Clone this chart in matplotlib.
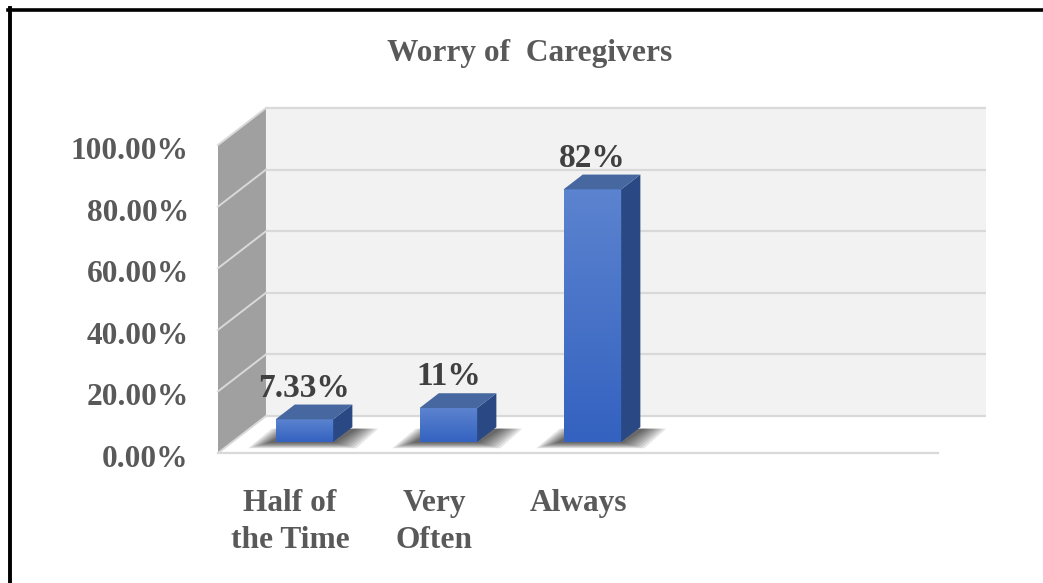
import numpy as np
import matplotlib.pyplot as plt
from matplotlib.patches import Polygon
from matplotlib.lines import Line2D
from matplotlib.colors import LinearSegmentedColormap
from matplotlib.transforms import ScaledTranslation

plt.rcParams['font.family'] = ['Liberation Serif', 'DejaVu Serif']
plt.rcParams['font.weight'] = 'bold'

title = 'Worry of  Caregivers'
categories = ['Half of\nthe Time', 'Very\nOften', 'Always']
values = [7.33, 11, 82]
value_labels = ['7.33%', '11%', '82%']
ticks = [0, 20, 40, 60, 80, 100]
tick_labels = ['0.00%', '20.00%', '40.00%', '60.00%', '80.00%', '100.00%']
n_slots = 5  # Excel kept room for five categories

# depth offset of the 3D box (category units, percent units)
DX, DY = 0.333, 12.0
HALF_W = 0.2
D0, D1 = 0.3, 0.7  # bar depth range

txt_grey = '#595959'
lab_grey = '#404040'
grid_c = '#d9d9d9'

fig = plt.figure(figsize=(10.43, 5.83), dpi=100)
ax = fig.add_axes([218 / 1043, 130 / 583, 720 / 1043, 308 / 583])
for s in ax.spines.values():
    s.set_visible(False)
ax.set_facecolor('none')


def poly(pts, **kw):
    p = Polygon(pts, closed=True, clip_on=False, **kw)
    ax.add_patch(p)
    return p


# back wall, side wall, floor
poly([(DX, DY), (n_slots + DX, DY), (n_slots + DX, 100 + DY), (DX, 100 + DY)],
     facecolor='#f2f2f2', edgecolor='none', zorder=1)
poly([(0, 0), (DX, DY), (DX, 100 + DY), (0, 100)],
     facecolor='#a0a0a0', edgecolor='none', zorder=1)
poly([(0, 0), (n_slots, 0), (n_slots + DX, DY), (DX, DY)],
     facecolor='white', edgecolor='none', zorder=1)

for t in ticks:
    ax.plot([DX, n_slots + DX], [t + DY, t + DY], color=grid_c, lw=1.6,
            zorder=2, clip_on=False, solid_capstyle='butt')
    ax.plot([0, DX], [t, t + DY], color=grid_c, lw=1.4, zorder=2,
            clip_on=False)
ax.plot([0, n_slots], [0, 0], color=grid_c, lw=1.6, zorder=2, clip_on=False)

# bars
top_c = '#46679f'
side_c = '#2a4884'
cmap = LinearSegmentedColormap.from_list('b', ['#3462c0', '#5b83cf'])
grad = np.linspace(0, 1, 64).reshape(-1, 1)
for i, v in enumerate(values):
    c = i + 0.5
    x0 = c - HALF_W + D0 * DX
    x1 = c + HALF_W + D0 * DX
    y0 = D0 * DY
    y1 = v + D0 * DY
    ddx = (D1 - D0) * DX
    ddy = (D1 - D0) * DY

    # soft shadow on the floor
    for k in range(8):
        e = 0.02 + 0.02 * k
        poly([(x0 - e - 0.03, y0 - 0.3 - 0.25 * k), (x1 + e, y0 - 0.3 - 0.25 * k),
              (x1 + ddx + e + 0.02, y0 + ddy - 0.5), (x0 + ddx - e, y0 + ddy - 0.5)],
             facecolor='black', edgecolor='none', alpha=0.1, zorder=3)

    # front face with vertical gradient
    ax.imshow(grad, cmap=cmap, extent=(x0, x1, y0, y1), origin='lower',
              aspect='auto', zorder=5, interpolation='bicubic')
    # side face
    poly([(x1, y0), (x1 + ddx, y0 + ddy), (x1 + ddx, y1 + ddy), (x1, y1)],
         facecolor=side_c, edgecolor='none', zorder=5)
    # top face
    poly([(x0, y1), (x1, y1), (x1 + ddx, y1 + ddy), (x0 + ddx, y1 + ddy)],
         facecolor=top_c, edgecolor='none', zorder=5)

    ax.text(c + D0 * DX, y1 + ddy + 0.3, value_labels[i], ha='center',
            va='bottom', fontsize=24, color=lab_grey, zorder=6)

ax.set_xlim(0, n_slots)
ax.set_ylim(0, 100)

ax.set_yticks(ticks)
ax.set_yticklabels(tick_labels, fontsize=22.6, color=txt_grey)
ax.set_xticks([i + 0.5 for i in range(len(categories))])
ax.set_xticklabels(categories, fontsize=22.6, color=txt_grey, linespacing=1.36)
ax.tick_params(axis='both', length=0)
ax.tick_params(axis='y', pad=21)
ax.tick_params(axis='x', pad=26)
shift = ScaledTranslation(0, -3 / 100, fig.dpi_scale_trans)
for lab in ax.get_yticklabels():
    lab.set_transform(lab.get_transform() + shift)

fig.text(530 / 1043, 1 - 53 / 583, title, ha='center', va='center',
         fontsize=22.6, color=txt_grey)

# frame lines (top and left only)
fig.add_artist(Line2D([8 / 1043, 1], [1 - 10 / 583] * 2, color='black', lw=2.6,
                      transform=fig.transFigure))
fig.add_artist(Line2D([10 / 1043] * 2, [0, 1 - 8 / 583], color='black', lw=2.8,
                      transform=fig.transFigure))

fig.savefig('out.png', dpi=100, facecolor='white')
